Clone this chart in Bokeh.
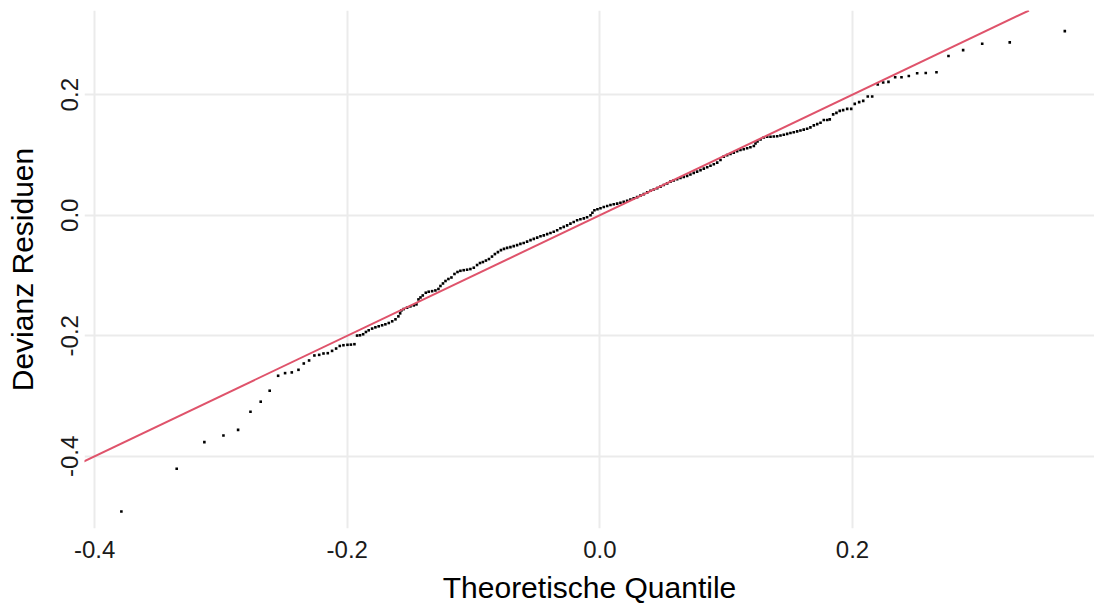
from bokeh.plotting import figure
from bokeh.models import Range1d, FixedTicker, Slope, ColumnDataSource
from bokeh.embed import file_html
from bokeh.resources import INLINE

# Normal QQ plot of the deviance residuals (sorted sample vs. theoretical quantiles)
theoretical = [
    -0.3788, -0.3350, -0.3131, -0.2980, -0.2864, -0.2766, -0.2685, -0.2614, -0.2547, -0.2492,
    -0.2439, -0.2386, -0.2344, -0.2302, -0.2260, -0.2222, -0.2188, -0.2154, -0.2120, -0.2088,
    -0.2059, -0.2030, -0.1998, -0.1971, -0.1943,
    -0.1922, -0.1899, -0.1874, -0.1852, -0.1830, -0.1803, -0.1777, -0.1751, -0.1724, -0.1698,
    -0.1671, -0.1644, -0.1618, -0.1595, -0.1581, -0.1571, -0.1553, -0.1526, -0.1500, -0.1473,
    -0.1452, -0.1436, -0.1420, -0.1402, -0.1378, -0.1355, -0.1328, -0.1302, -0.1278, -0.1262,
    -0.1242, -0.1222, -0.1199, -0.1175, -0.1151, -0.1127, -0.1104, -0.1078, -0.1051, -0.1025,
    -0.0998, -0.0972, -0.0949, -0.0926, -0.0902, -0.0878, -0.0854, -0.0831, -0.0807, -0.0783,
    -0.0759, -0.0734, -0.0708, -0.0682, -0.0655, -0.0629, -0.0603, -0.0576, -0.0549, -0.0523,
    -0.0496, -0.0470, -0.0444, -0.0417, -0.0391, -0.0365, -0.0338, -0.0312, -0.0286, -0.0259,
    -0.0233, -0.0207, -0.0180, -0.0154, -0.0127, -0.0101, -0.0074, -0.0059, -0.0043, -0.0019,
    0.0005, 0.0031, 0.0058, 0.0084, 0.0110, 0.0137, 0.0163, 0.0189, 0.0216, 0.0242,
    0.0268, 0.0295, 0.0321, 0.0348, 0.0375, 0.0401, 0.0427, 0.0454, 0.0480, 0.0506,
    0.0533, 0.0559, 0.0585, 0.0612, 0.0638, 0.0664, 0.0691, 0.0717, 0.0743, 0.0770,
    0.0797, 0.0823, 0.0850, 0.0876, 0.0902, 0.0929, 0.0955, 0.0981, 0.1008, 0.1034,
    0.1060, 0.1087, 0.1113, 0.1139, 0.1166, 0.1192, 0.1219, 0.1232, 0.1248, 0.1272,
    0.1298, 0.1325, 0.1351, 0.1377, 0.1404, 0.1430, 0.1456, 0.1483, 0.1509, 0.1535,
    0.1562, 0.1588, 0.1614, 0.1641, 0.1667, 0.1694, 0.1721, 0.1747,
    0.1773, 0.1800, 0.1820, 0.1847, 0.1873, 0.1899, 0.1926, 0.1958, 0.1990, 0.2018,
    0.2053, 0.2085, 0.2121, 0.2156, 0.2200, 0.2243, 0.2285, 0.2338, 0.2388, 0.2446,
    0.2512, 0.2580, 0.2665, 0.2760, 0.2876, 0.3027, 0.3245, 0.3681,
]

residuals = [
    -0.4917, -0.4207, -0.3765, -0.3656, -0.3562, -0.3260, -0.3094, -0.2912, -0.2664, -0.2620,
    -0.2608, -0.2565, -0.2460, -0.2410, -0.2327, -0.2317, -0.2294, -0.2289, -0.2251, -0.2212,
    -0.2169, -0.2157, -0.2150, -0.2147, -0.2140,
    -0.1997, -0.1992, -0.1975, -0.1937, -0.1909, -0.1881, -0.1860, -0.1843, -0.1826, -0.1810,
    -0.1788, -0.1760, -0.1727, -0.1678, -0.1628, -0.1579, -0.1557, -0.1534, -0.1512, -0.1496,
    -0.1479, -0.1397, -0.1364, -0.1331, -0.1286, -0.1269, -0.1260, -0.1248, -0.1223, -0.1174,
    -0.1132, -0.1091, -0.1058, -0.1033, -0.0975, -0.0942, -0.0922, -0.0912, -0.0904, -0.0893,
    -0.0871, -0.0826, -0.0793, -0.0777, -0.0752, -0.0727, -0.0686, -0.0645, -0.0612, -0.0579,
    -0.0559, -0.0542, -0.0529, -0.0512, -0.0496, -0.0476, -0.0460, -0.0438, -0.0413, -0.0393,
    -0.0372, -0.0350, -0.0334, -0.0314, -0.0294, -0.0273, -0.0248, -0.0215, -0.0193, -0.0169,
    -0.0140, -0.0112, -0.0083, -0.0066, -0.0053, -0.0033, 0.0000, 0.0041, 0.0083, 0.0099,
    0.0116, 0.0136, 0.0152, 0.0170, 0.0182, 0.0193, 0.0207, 0.0223, 0.0240, 0.0260,
    0.0281, 0.0301, 0.0326, 0.0350, 0.0380, 0.0405, 0.0426, 0.0450, 0.0474, 0.0501,
    0.0529, 0.0557, 0.0579, 0.0598, 0.0617, 0.0636, 0.0653, 0.0676, 0.0702, 0.0724,
    0.0749, 0.0774, 0.0797, 0.0821, 0.0846, 0.0873, 0.0917, 0.0972, 0.0997, 0.1017,
    0.1038, 0.1061, 0.1083, 0.1096, 0.1111, 0.1127, 0.1149, 0.1190, 0.1223, 0.1256,
    0.1289, 0.1302, 0.1302, 0.1306, 0.1311, 0.1322, 0.1336, 0.1350, 0.1364, 0.1377,
    0.1392, 0.1405, 0.1421, 0.1435, 0.1458, 0.1491, 0.1512, 0.1534,
    0.1579, 0.1579, 0.1590, 0.1673, 0.1699, 0.1732, 0.1744, 0.1765, 0.1765, 0.1848,
    0.1876, 0.1898, 0.1970, 0.1970, 0.2169, 0.2202, 0.2212, 0.2289, 0.2289, 0.2311,
    0.2355, 0.2360, 0.2372, 0.2641, 0.2740, 0.2846, 0.2868, 0.3055,
]

x_ticks = [-0.4, -0.2, 0.0, 0.2]
x_tick_labels = ["-0.4", "-0.2", "0.0", "0.2"]
y_ticks = [-0.4, -0.2, 0.0, 0.2]
y_tick_labels = ["-0.4", "-0.2", "0.0", "0.2"]

# reference line through the quantiles
ref_slope = 1.0
ref_intercept = 0.0

FONT = "Liberation Sans"
GRID = "#EBEBEB"

source = ColumnDataSource(data=dict(x=theoretical, y=residuals))

p = figure(
    width=1094, height=606,
    output_backend="svg", toolbar_location=None,
    x_range=Range1d(-0.408, 0.3916), y_range=Range1d(-0.5198, 0.3397),
    min_border_left=84, min_border_right=0, min_border_top=10, min_border_bottom=76,
)
p.outline_line_color = None
p.background_fill_color = "white"
p.border_fill_color = "white"

p.scatter("x", "y", source=source, marker="square", size=2.6,
          fill_color="black", line_color=None)

p.add_layout(Slope(gradient=ref_slope, y_intercept=ref_intercept,
                   line_color="#DF536B", line_width=2))

for ax, ticks, labels in ((p.xaxis[0], x_ticks, x_tick_labels),
                          (p.yaxis[0], y_ticks, y_tick_labels)):
    ax.ticker = FixedTicker(ticks=ticks)
    ax.major_label_overrides = {t: l for t, l in zip(ticks, labels)}
    ax.axis_line_color = None
    ax.major_tick_line_color = None
    ax.minor_tick_line_color = None
    ax.major_tick_in = 0
    ax.major_tick_out = 0
    ax.minor_tick_out = 0
    ax.major_label_text_font = FONT
    ax.major_label_text_font_size = "24px"
    ax.major_label_text_color = "#1A1A1A"
    ax.axis_label_text_font = FONT
    ax.axis_label_text_font_size = "30px"
    ax.axis_label_text_font_style = "normal"
    ax.axis_label_text_color = "black"
    ax.axis_label_text_line_height = 0.8

p.xaxis.axis_label = "Theoretische Quantile"
p.yaxis.axis_label = "Devianz Residuen"
p.yaxis.major_label_orientation = "parallel"
p.xaxis.major_label_standoff = 12
p.xaxis.axis_label_standoff = 10
p.yaxis.major_label_standoff = 6
p.yaxis.axis_label_standoff = 20

p.xgrid.grid_line_color = GRID
p.ygrid.grid_line_color = GRID
p.xgrid.grid_line_width = 2
p.ygrid.grid_line_width = 2

open("out.html", "w").write(file_html(p, INLINE))
